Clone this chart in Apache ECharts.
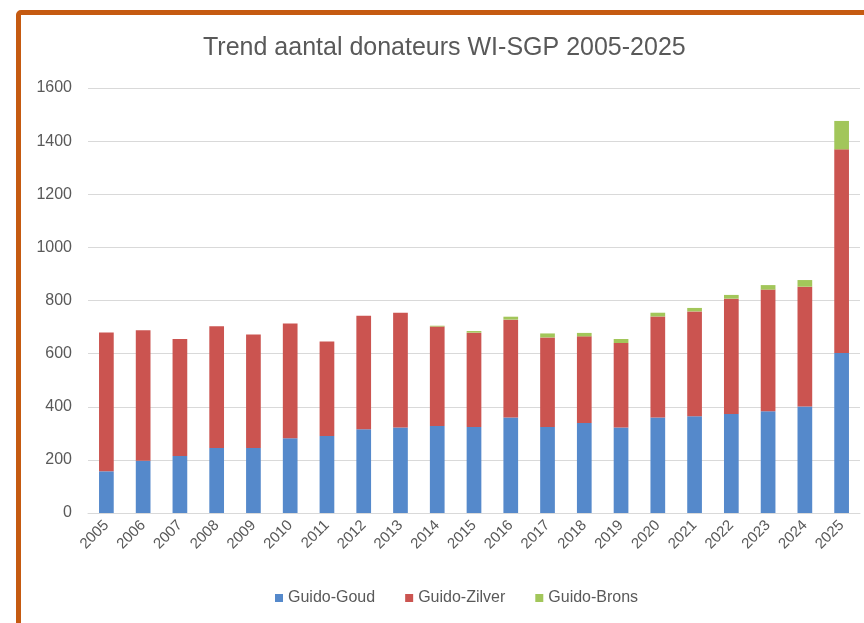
<!DOCTYPE html>
<html>
<head>
<meta charset="utf-8">
<script src="https://cdn.jsdelivr.net/npm/echarts@6/dist/echarts.min.js"></script>
<style>
  html, body { margin: 0; padding: 0; background: #fff; }
  .frame {
    position: absolute;
    left: 16px;
    top: 10px;
    width: 900px;
    height: 700px;
    border: 5px solid #c55a11;
    border-radius: 5px;
  }
  #chart {
    position: absolute;
    left: 0;
    top: 0;
    width: 864px;
    height: 623px;
  }
</style>
</head>
<body>
<div class="frame"></div>
<div id="chart"></div>
<script>
const years = ['2005', '2006', '2007', '2008', '2009', '2010', '2011', '2012', '2013', '2014',
  '2015', '2016', '2017', '2018', '2019', '2020', '2021', '2022', '2023', '2024', '2025']
const goud = [157, 197, 215, 245, 245, 281, 290, 315, 322, 328, 324, 360, 324, 339, 322, 360, 364, 373, 383, 401, 602]
const zilver = [523, 491, 440, 458, 427, 432, 356, 428, 432, 374, 355, 368, 337, 326, 318, 380, 395, 434, 458, 451, 767]
const brons = [0, 0, 0, 0, 0, 0, 0, 0, 0, 3, 6, 11, 15, 13, 15, 14, 13, 14, 17, 25, 107]
const yTicks = [0, 200, 400, 600, 800, 1000, 1200, 1400, 1600]

const font = 'Liberation Sans'
const textColor = '#595959'
const gridColor = '#d9d9d9'

const chart = echarts.init(document.getElementById('chart'))

function barSeries(name, data, color) {
  return {
    name,
    type: 'bar',
    stack: 'total',
    barWidth: '40%',
    itemStyle: { color },
    data
  }
}

chart.setOption({
  animation: false,
  title: {
    text: 'Trend aantal donateurs WI-SGP 2005-2025',
    left: 198,
    top: 31,
    textStyle: { fontFamily: font, fontSize: 25, fontWeight: 'normal', color: textColor }
  },
  legend: {
    bottom: 12,
    left: 270,
    itemWidth: 8,
    itemHeight: 8,
    itemGap: 30,
    icon: 'rect',
    textStyle: { fontFamily: font, fontSize: 16, color: textColor }
  },
  grid: {
    left: 88,
    right: 4,
    top: 88,
    bottom: 110
  },
  xAxis: {
    type: 'category',
    data: years,
    axisLine: { lineStyle: { color: gridColor } },
    axisTick: { show: false },
    axisLabel: { rotate: 45, margin: 10, fontFamily: font, fontSize: 15, color: textColor }
  },
  yAxis: {
    type: 'value',
    min: yTicks[0],
    max: yTicks[yTicks.length - 1],
    interval: 200,
    axisLine: { show: false },
    axisTick: { show: false },
    axisLabel: {
      margin: 16,
      fontFamily: font,
      fontSize: 16,
      color: textColor,
      formatter: v => String(v)
    },
    splitLine: { lineStyle: { color: gridColor } }
  },
  series: [
    barSeries('Guido-Goud', goud, '#5589cb'),
    barSeries('Guido-Zilver', zilver, '#cb5450'),
    barSeries('Guido-Brons', brons, '#a2c65a')
  ]
})
</script>
</body>
</html>
